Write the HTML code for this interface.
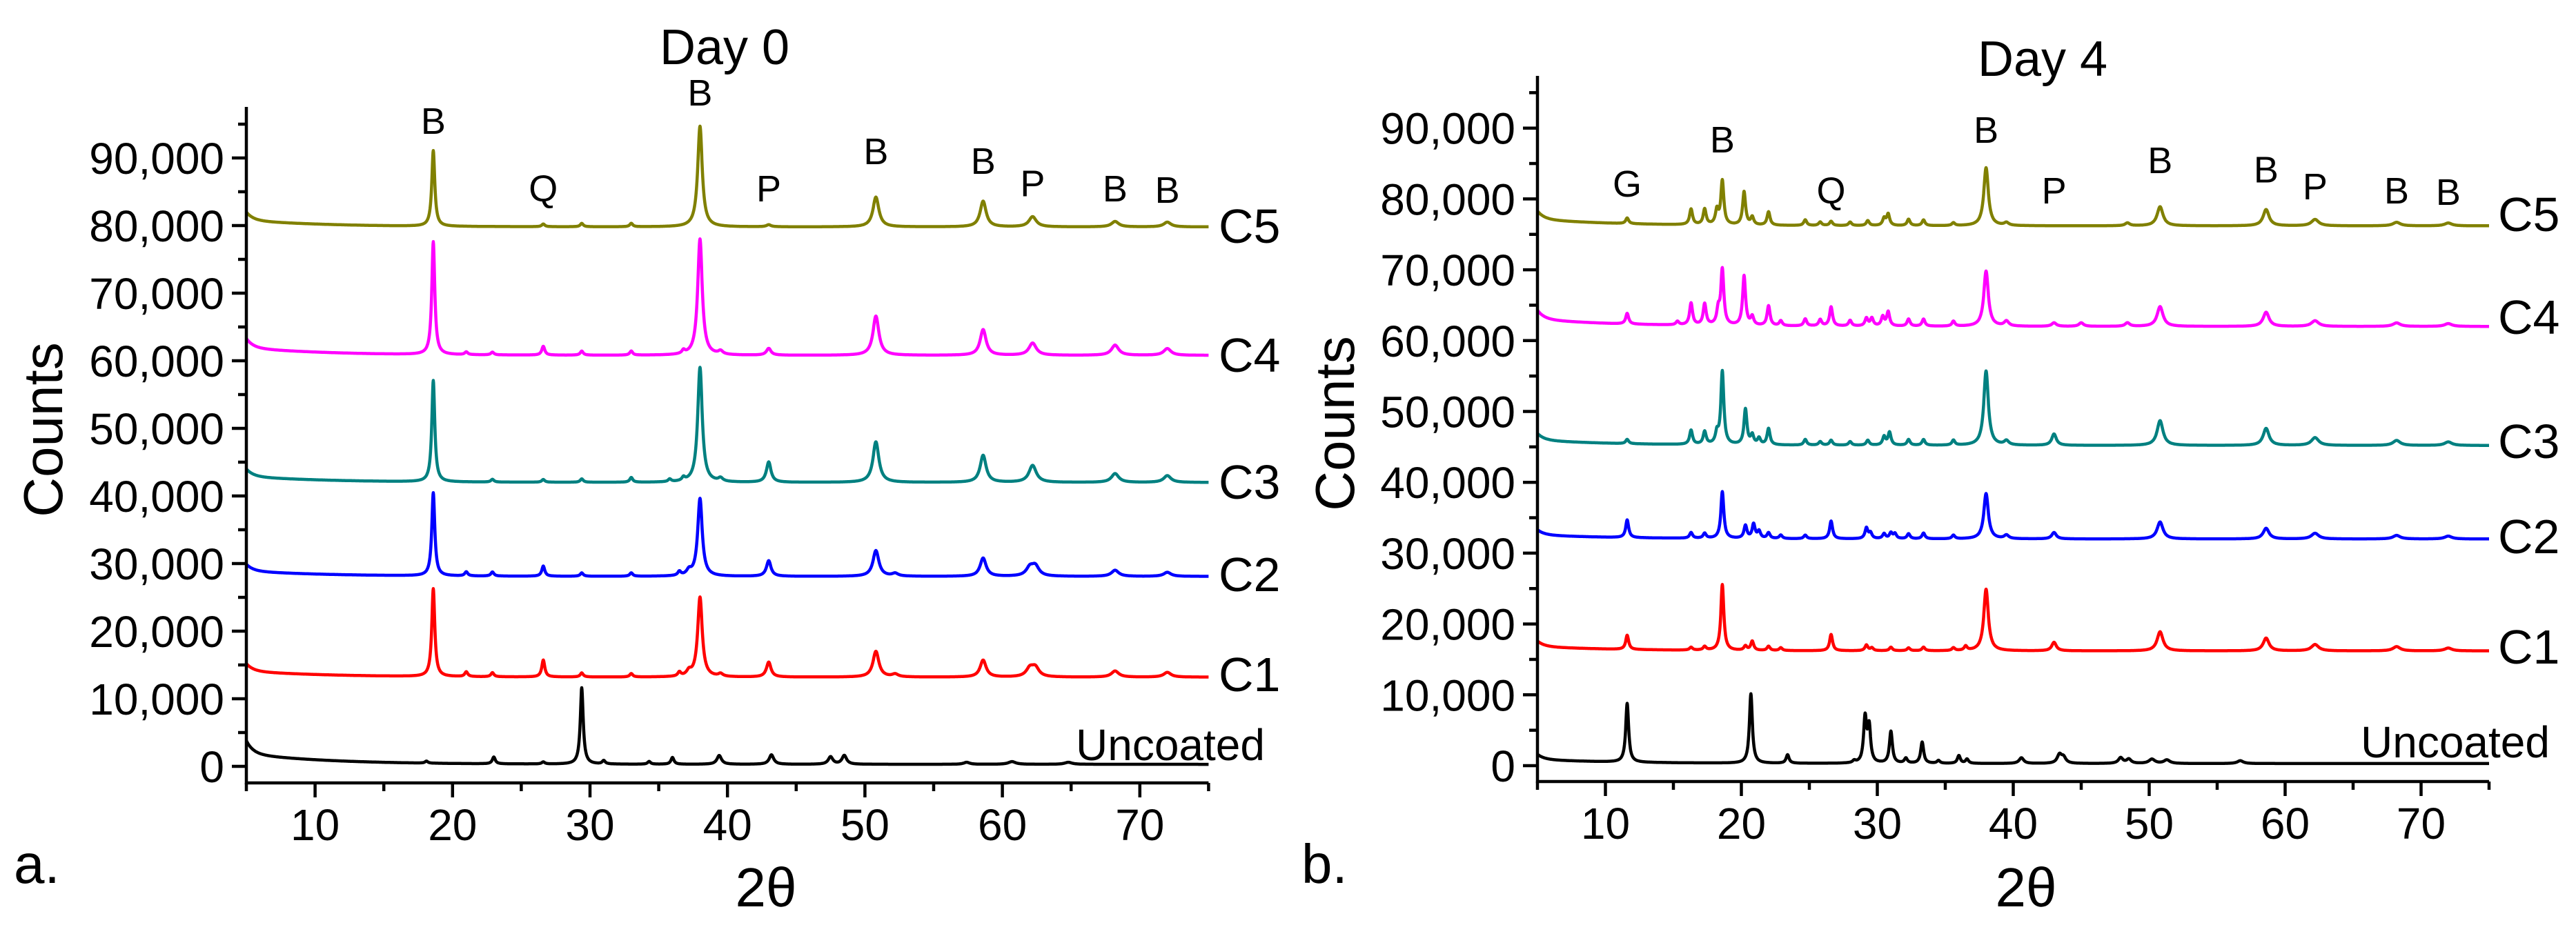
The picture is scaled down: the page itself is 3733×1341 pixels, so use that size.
<!DOCTYPE html>
<html><head><meta charset="utf-8">
<style>
html,body{margin:0;padding:0;background:#fff;}
svg{display:block;font-family:"Liberation Sans",Arial,sans-serif;}
</style></head>
<body>
<svg id="chart" width="3733" height="1341" viewBox="0 0 3733 1341" xmlns="http://www.w3.org/2000/svg"></svg>
<script>
// ---------- DATA ----------
const xTicks = [10,20,30,40,50,60,70];
const yTicks = [0,10000,20000,30000,40000,50000,60000,70000,80000,90000];
const yTickLabels = ["0","10,000","20,000","30,000","40,000","50,000","60,000","70,000","80,000","90,000"];
const seriesNames = ["Uncoated","C1","C2","C3","C4","C5"];
const seriesColors = ["#000000","#ff0000","#0000ff","#008080","#ff00ff","#808000"];

// Day 0
const d0Baseline = [300,13200,28100,42000,60800,79800];
const d0StartExcess = [3500,2000,1800,2000,2500,2200];
const d0PeakPos = [
  [18.1,23,26.6,29.4,31,34.3,36,39.4,43.2,47.5,48.5,57.4,60.7,64.8],
  [18.6,21,22.9,26.6,29.4,33,36.5,37.2,38,39.5,43,50.8,52.2,58.6,62,62.4,68.2,72],
  [18.6,21,22.9,26.6,29.4,33,36.5,37.2,38,43,50.8,52.2,58.6,62,62.4,68.2,72],
  [18.6,22.9,26.6,29.4,33,35.8,36.8,38,39.5,43,50.8,58.6,62.2,68.2,72],
  [18.6,21,22.9,26.6,29.4,33,36.8,38,39.5,43,50.8,58.6,62.2,68.2,72],
  [18.6,26.6,29.4,33,38,43,50.8,58.6,62.2,68.2,72]
];
const d0PeakH = [
  [300,1000,300,11300,500,400,1000,1300,1400,1100,1300,300,400,300],
  [13000,700,600,2500,600,500,600,700,11800,400,2200,3800,400,2500,1200,1300,900,700],
  [12300,600,600,1500,500,500,600,700,11500,2300,3800,400,2700,1200,1400,900,600],
  [15000,400,400,500,700,400,500,17000,500,3000,6000,4000,2500,1300,1000],
  [16700,400,400,1300,600,600,500,17200,500,1000,5800,3800,1800,1500,1000],
  [11200,400,500,500,14900,300,4400,3800,1500,800,700]
];

// Day 4
const d4Baseline = [300,16200,32000,45200,62000,76200];
const d4StartExcess = [1300,1400,1300,1700,2300,2100];
const d4PeakPos = [
  [11.6,20.7,23.4,28.3,29.1,29.4,31,32.1,33.3,34.5,36,36.6,40.6,43.4,43.7,47.9,48.5,50.2,51.3,56.7],
  [11.6,16.3,17.3,18.6,20.3,20.8,22,22.9,26.6,29.2,29.6,31,32.3,33.4,35.6,36.5,38,43,50.8,58.6,62.2,68.2,72],
  [11.6,16.3,17.3,18.6,20.3,20.9,21.3,22,22.9,24.7,26.6,29.2,29.5,30.5,31,31.3,32.3,33.4,35.6,38,39.5,43,50.8,58.6,62.2,68.2,72],
  [11.6,16.3,17.3,18.2,18.6,20.3,20.8,21.3,22,24.7,25.8,26.6,28,29.3,30.5,30.9,32.3,33.4,35.6,38,39.5,43,50.8,58.6,62.2,68.2,72],
  [11.6,15.3,16.3,17.3,18.3,18.6,20.2,20.8,22,22.9,24.7,25.8,26.6,28,29.2,29.6,30.4,30.8,32.3,33.4,35.6,38,39.5,43,45,48.4,50.8,58.6,62.2,68.2,72],
  [11.6,16.3,17.3,18.2,18.6,20.2,20.8,22,24.7,25.8,26.6,28,29.3,30.5,30.8,32.3,33.4,35.6,38,39.5,48.4,50.8,58.6,62.2,68.2,72]
];
const d4PeakH = [
  [8300,9800,1200,300,6300,5000,4500,700,3000,400,1100,600,800,1200,800,800,600,600,500,400],
  [2000,400,500,9300,600,1300,600,400,2300,800,400,500,400,500,400,600,8700,1200,2700,1800,900,600,400],
  [2500,800,700,6600,1800,2000,1000,800,500,500,2500,1500,800,700,800,700,700,800,500,6400,500,900,2400,1500,800,500,400],
  [600,2000,1800,1500,10300,5000,1300,900,2300,800,500,700,500,700,1200,1800,800,800,700,10500,600,1600,3500,2400,1100,700,500],
  [1500,500,3100,3000,2000,7800,7000,1200,2800,700,1000,900,2700,800,1100,1100,1300,2000,1000,1000,700,7800,700,500,500,500,2800,2000,800,500,400],
  [800,2200,2200,2000,6200,4700,1100,1900,800,500,600,500,700,1000,1600,900,800,400,8200,400,400,2700,2300,900,500,400]
];

// Peak annotation labels
const d0AnnText = ["B","Q","B","P","B","B","P","B","B"];
const d0AnnX = [18.6,26.6,38,43,50.8,58.6,62.2,68.2,72];
const d0AnnY = [95500,85500,99700,85500,91000,89600,86300,85500,85300];
const d4AnnText = ["G","B","Q","B","P","B","B","P","B","B"];
const d4AnnX = [11.6,18.6,26.6,38,43,50.8,58.6,62.2,68.2,72];
const d4AnnY = [82200,88400,81200,89800,81200,85500,84200,81800,81200,81000];

// ---------- RENDER ----------
const NS="http://www.w3.org/2000/svg";
const svg=document.getElementById('chart');
function mk(tag,attrs,parent){const e=document.createElementNS(NS,tag);for(const k in attrs)e.setAttribute(k,attrs[k]);(parent||svg).appendChild(e);return e;}

function widthFor(x){
  if(x>=60) return 0.32; if(x>=50) return 0.26; if(x>=37) return 0.2; return 0.13;
}

function panel(cfg){
  const g=mk('g',{});
  
  
  const X=v=>cfg.x0+(v-5)*cfg.px;
  const Y=v=>cfg.y0-v*cfg.py;
  for(let s=0;s<seriesNames.length;s++){
    let d='';
    for(let x=5;x<=75.0001;x+=0.02){
      let v=cfg.base[s]+cfg.startEx[s]*(0.55*Math.exp(-(x-5)/0.5)+0.45*Math.exp(-(x-5)/6));
      const P=cfg.pos[s],H=cfg.h[s];
      for(let i=0;i<P.length;i++){const w=widthFor(P[i]);const t=(x-P[i])/w;v+=H[i]/(1+t*t);}
      d+=(d?'L':'M')+X(x).toFixed(1)+' '+Y(v).toFixed(1);
    }
    const p=mk('path',{d:d,fill:'none',stroke:seriesColors[s],'stroke-width':4.5,'stroke-linejoin':'round'},g);
    
    
  }
  const xEnd=X(75), yTop=cfg.yTop, xb=cfg.axisY;
  const ax=mk('path',{d:`M${cfg.x0} ${yTop}V${xb}H${xEnd}`,fill:'none',stroke:'#000','stroke-width':4.5},g);
  
  
  for(let v=5;v<=75;v+=5){
    const major=(v%10===0);
    mk('line',{x1:X(v),x2:X(v),y1:xb,y2:xb+(major?21:12),stroke:'#000','stroke-width':4.5},g);
  }
  xTicks.forEach(v=>{
    const t=mk('text',{x:X(v),y:xb+83,'font-size':64,'text-anchor':'middle'},g);
    t.textContent=v;
    
    
  });
  for(let v=0;v<=cfg.yMax;v+=5000){
    const major=(v%10000===0);
    if(Y(v)<yTop) break;
    mk('line',{x1:cfg.x0-(major?21:12),x2:cfg.x0,y1:Y(v),y2:Y(v),stroke:'#000','stroke-width':4.5},g);
  }
  yTicks.forEach((v,i)=>{
    const t=mk('text',{x:cfg.x0-32,y:Y(v)+23,'font-size':64,'text-anchor':'end'},g);
    t.textContent=yTickLabels[i];
    
    
  });
  cfg.annT.forEach((s,i)=>{
    const t=mk('text',{x:X(cfg.annX[i]),y:Y(cfg.annY[i])+19,'font-size':54,'text-anchor':'middle'},g);
    t.textContent=s;
    
    
  });
  cfg.labels.forEach((L,i)=>{
    const t=mk('text',{x:L[0],y:L[1],'font-size':L[2]},g);
    t.textContent=seriesNames[i];
    
    
  });
  let t=mk('text',{x:cfg.titleX,y:cfg.titleY,'font-size':72,'text-anchor':'middle'},g);
  t.textContent=cfg.title;
  
  
  t=mk('text',{x:cfg.xtX,y:1314,'font-size':80,'text-anchor':'middle'},g);
  t.textContent='2θ';
  
  
  t=mk('text',{x:0,y:0,'font-size':80,'text-anchor':'middle',transform:`translate(${cfg.ytX},${cfg.ytY}) rotate(-90)`},g);
  t.textContent='Counts';
  
  
  t=mk('text',{x:cfg.letterX,y:1280,'font-size':80},g);
  t.textContent=cfg.letter;
  
  
}

panel({name:'panel-day0',x0:357,px:19.92,y0:1111,py:0.0098,yTop:155,axisY:1135,yMax:95000,
  base:d0Baseline,startEx:d0StartExcess,pos:d0PeakPos,h:d0PeakH,
  annT:d0AnnText,annX:d0AnnX,annY:d0AnnY,
  labels:[[1559,1102,64],[1766,1002,70],[1766,857,70],[1766,723,70],[1766,539,70],[1766,352,70]],
  title:'Day 0',titleX:1050,titleY:93,xtX:1110,ytX:90,ytY:623,letter:'a.',letterX:20});
panel({name:'panel-day4',x0:2228,px:19.7,y0:1110,py:0.01027,yTop:110,axisY:1133,yMax:97000,
  base:d4Baseline,startEx:d4StartExcess,pos:d4PeakPos,h:d4PeakH,
  annT:d4AnnText,annX:d4AnnX,annY:d4AnnY,
  labels:[[3421,1098,64],[3620,962,70],[3620,802,70],[3620,664,70],[3620,484,70],[3620,335,70]],
  title:'Day 4',titleX:2960,titleY:110,xtX:2936,ytX:1962,ytY:614,letter:'b.',letterX:1886});
</script>
</body></html>
